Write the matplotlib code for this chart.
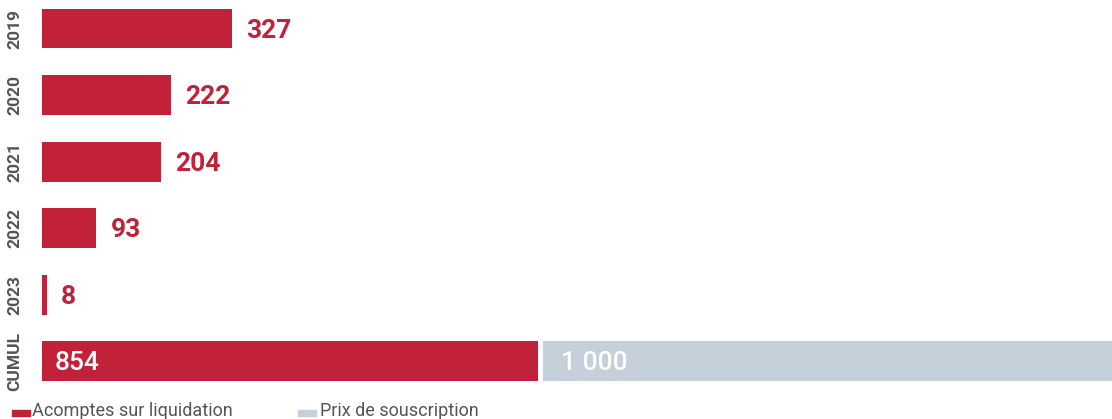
import matplotlib.pyplot as plt
from matplotlib.patches import Rectangle

# data
years = ["2019", "2020", "2021", "2022", "2023"]
acomptes = [327, 222, 204, 93, 8]
cumul_label = "CUMUL"
cumul_acomptes = 854
prix_souscription = 1000

red = "#C1223A"
grey = "#C6D0DA"
txt_grey = "#555555"

plt.rcParams['font.family'] = ['Roboto', 'DejaVu Sans']

fig = plt.figure(figsize=(11.12, 4.19), dpi=100)
# axes from x=42px to the right edge, top of fig down to ~390px
ax = fig.add_axes([42 / 1112, 1 - 390 / 419, 1 - 42 / 1112, 390 / 419])

ypos = list(range(len(years)))
h = 0.6
ax.barh(ypos, acomptes, height=h, color=red)
for y, v in zip(ypos, acomptes):
    ax.annotate(str(v), xy=(v, y), xytext=(10.5, -1.5), textcoords="offset points",
                va="center", ha="left", fontsize=19, color=red, fontweight="semibold")

yc = len(years)
gap = 9
ax.barh(yc, cumul_acomptes, height=h, color=red)
ax.barh(yc, prix_souscription, left=cumul_acomptes + gap, height=h, color=grey)
ax.annotate(str(cumul_acomptes), xy=(0, yc), xytext=(9, -1.5), textcoords="offset points",
            va="center", ha="left", fontsize=19, color="white", fontweight="medium")
ax.annotate("1 000", xy=(cumul_acomptes + gap, yc), xytext=(13, -1.5), textcoords="offset points",
            va="center", ha="left", fontsize=19, color="white", fontweight="medium")

ax.set_xlim(0, 1070 / 0.581)
ax.set_ylim(5.43, -0.428)
ax.axis("off")

# rotated category labels
for y, lab in zip(ypos + [yc], years + [cumul_label]):
    px = (y + 0.428) * 66.6
    fig.text(15 / 1112, 1 - px / 419, lab, rotation=90, ha="center", va="center",
             fontsize=12.5, fontweight="bold", color=txt_grey)

# legend at bottom
fig.patches.append(Rectangle((12 / 1112, 1 - 416 / 419), 18 / 1112, 6 / 419,
                             transform=fig.transFigure, color=red, figure=fig))
fig.text(32 / 1112, 1 - 411 / 419, "Acomptes sur liquidation", ha="left", va="center",
         fontsize=13, color=txt_grey)
fig.patches.append(Rectangle((298 / 1112, 1 - 416 / 419), 18 / 1112, 6 / 419,
                             transform=fig.transFigure, color=grey, figure=fig))
fig.text(320 / 1112, 1 - 411 / 419, "Prix de souscription", ha="left", va="center",
         fontsize=13, color=txt_grey)

fig.savefig("out.png", dpi=100)
